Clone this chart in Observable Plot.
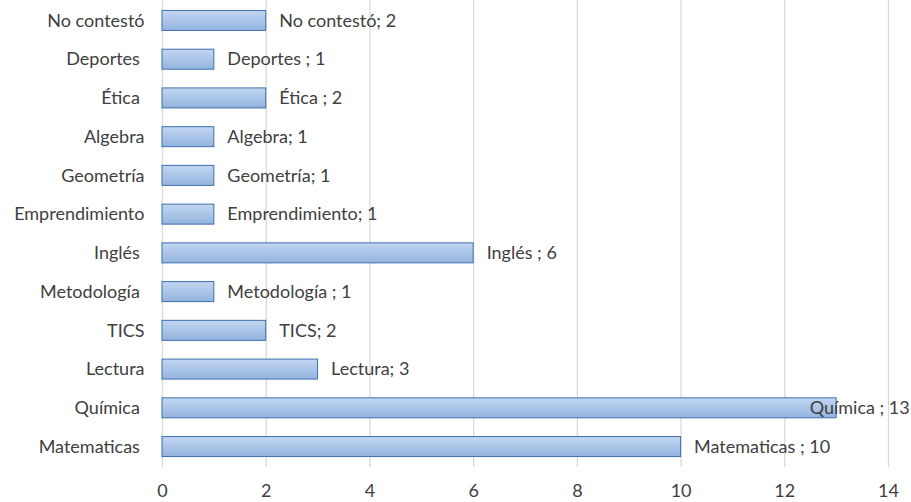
<!DOCTYPE html>
<html>
<head>
<meta charset="utf-8">
<script src="https://cdn.jsdelivr.net/npm/d3@7"></script>
<script src="https://cdn.jsdelivr.net/npm/@observablehq/plot@0.6"></script>
<style>
  html, body { margin: 0; padding: 0; background: #fff; }
  svg text { white-space: pre; }
</style>
</head>
<body>
<div id="chart"></div>
<script>
const categories = ["No contestó", "Deportes ", "Ética ", "Algebra", "Geometría", "Emprendimiento", "Inglés ", "Metodología ", "TICS", "Lectura", "Química ", "Matematicas "];
const values = [2, 1, 2, 1, 1, 1, 6, 1, 2, 3, 13, 10];
const xTicks = [0, 2, 4, 6, 8, 10, 12, 14];

const data = categories.map((c, i) => ({name: c, value: values[i], label: c + "; " + values[i]}));

const FS = 18;
const chart = Plot.plot({
  width: 911,
  height: 502,
  marginTop: 0,
  marginBottom: 35,
  marginLeft: 162,
  marginRight: 23,
  style: {fontFamily: "Lato, sans-serif", fontSize: FS + "px", color: "#404040", background: "#fff"},
  x: {domain: [0, 14], ticks: xTicks},
  y: {domain: categories, paddingInner: 0.484, paddingOuter: 0.27, round: false, label: null},
  marks: [
    Plot.ruleX(xTicks, {stroke: "#d9d9d9", strokeWidth: 1.3}),
    Plot.barX(data, {x: "value", y: "name", fill: "url(#barGrad)", stroke: "#3f6fae", strokeWidth: 1}),
    Plot.text(data.filter(d => d.value < 12), {x: "value", y: "name", text: "label", textAnchor: "start", dx: 13, fill: "#404040", fontSize: FS}),
    Plot.text(data.filter(d => d.value >= 12), {x: "value", y: "name", text: "label", textAnchor: "start", dx: -27, fill: "#404040", fontSize: FS}),
    Plot.axisX({ticks: xTicks, tickSize: 0, tickPadding: 17, label: null, fontSize: FS, fill: "#404040"}),
    Plot.axisY({tickSize: 0, tickPadding: 18, label: null, fontSize: FS, fill: "#404040"})
  ]
});

const svg = d3.select(chart);
const defs = svg.insert("defs", ":first-child");
const g = defs.append("linearGradient").attr("id", "barGrad").attr("x1", 0).attr("y1", 0).attr("x2", 0).attr("y2", 1);
g.append("stop").attr("offset", "0%").attr("stop-color", "#c2d6f1");
g.append("stop").attr("offset", "100%").attr("stop-color", "#93b4df");

document.getElementById("chart").appendChild(chart);
</script>
</body>
</html>
